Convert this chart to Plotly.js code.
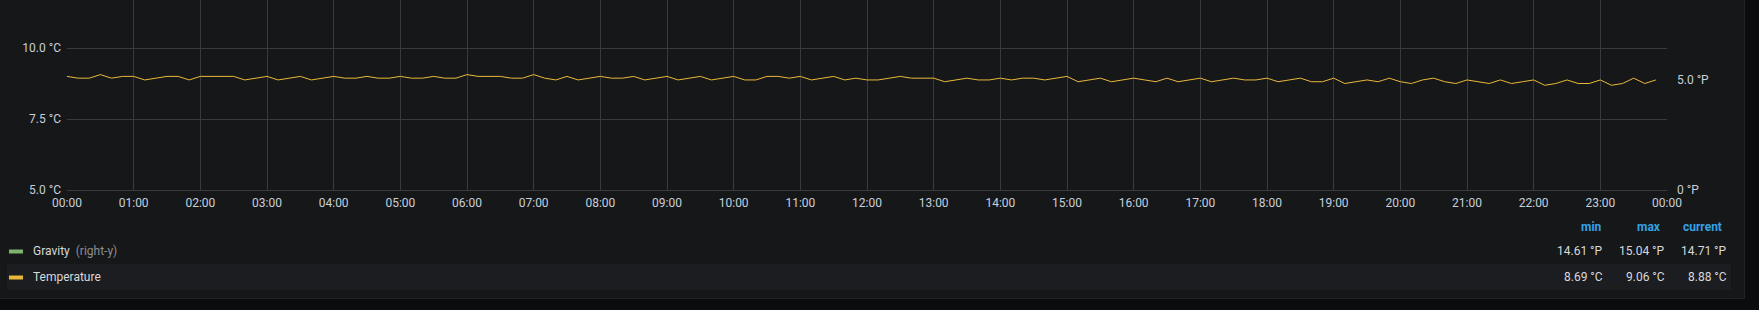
<!DOCTYPE html>
<html>
<head>
<meta charset="utf-8">
<script src="https://cdn.plot.ly/plotly-3.0.1.min.js"></script>
<style>
html,body{margin:0;padding:0;background:#0b0c0e;width:1759px;height:310px;overflow:hidden;}
#wrap{position:absolute;left:0;top:0;width:1744px;height:298px;border-right:1px solid #202226;border-bottom:1px solid #202226;}
#chart{width:1744px;height:298px;}
</style>
</head>
<body>
<div id="wrap"><div id="chart"></div></div>
<script>
// ---- data ----
const startTime = '2020-01-01 00:00';
const endTime = '2020-01-02 00:00';
const sampleMinutes = 10;
const temperature = [
 9.0, 8.9375, 8.9375, 9.0625, 8.9375, 9.0, 9.0, 8.875, 8.9375, 9.0, 9.0, 8.875,
 9.0, 9.0, 9.0, 9.0, 8.875, 8.9375, 9.0, 8.875, 8.9375, 9.0, 8.875, 8.9375,
 9.0, 8.9375, 8.9375, 9.0, 8.9375, 8.9375, 9.0, 8.9375, 8.9375, 9.0, 8.9375, 8.9375,
 9.0625, 9.0, 9.0, 9.0, 8.9375, 8.9375, 9.0625, 8.9375, 8.875, 9.0, 8.875, 8.9375,
 9.0, 8.9375, 8.9375, 9.0, 8.875, 8.9375, 9.0, 8.875, 8.9375, 9.0, 8.875, 8.9375,
 9.0, 8.875, 8.875, 9.0, 9.0, 8.9375, 9.0, 8.875, 8.9375, 9.0, 8.875, 8.9375,
 8.875, 8.875, 8.9375, 9.0, 8.9375, 8.9375, 8.9375, 8.8125, 8.875, 8.9375, 8.875, 8.875,
 8.9375, 8.875, 8.9375, 8.9375, 8.875, 8.9375, 9.0, 8.8125, 8.875, 8.9375, 8.8125, 8.875,
 8.9375, 8.875, 8.8125, 8.9375, 8.8125, 8.875, 8.9375, 8.8125, 8.875, 8.9375, 8.875, 8.875,
 8.9375, 8.8125, 8.875, 8.9375, 8.8125, 8.8125, 8.9375, 8.75, 8.8125, 8.875, 8.8125, 8.9375,
 8.8125, 8.75, 8.875, 8.9375, 8.8125, 8.75, 8.875, 8.8125, 8.75, 8.875, 8.75, 8.8125,
 8.875, 8.6875, 8.75, 8.875, 8.75, 8.75, 8.875, 8.6875, 8.75, 8.9375, 8.75, 8.875
];
const gravityHourly = [
 15.04, 15.03, 15.01, 15.00, 14.98, 14.97, 14.95, 14.94, 14.92, 14.91, 14.89, 14.88,
 14.86, 14.85, 14.83, 14.82, 14.80, 14.79, 14.77, 14.76, 14.74, 14.72, 14.61, 14.68, 14.71
];
const leftTicks = [5, 7.5, 10];
const rightTicks = [0, 5];
const leftRange = [5, 11.69];
const rightRange = [0, 8.64];
const seriesNames = ['Gravity', 'Temperature'];
const statHeaders = ['min', 'max', 'current'];

// ---- build ----
const t0 = new Date(startTime.replace(' ', 'T') + ':00Z').getTime();
function fmt(ms){ return new Date(ms).toISOString().slice(0,19).replace('T',' '); }
const tempX = temperature.map((v,i)=>fmt(t0 + i*sampleMinutes*60000));
const gravX = gravityHourly.map((v,i)=>fmt(t0 + i*3600000));

const W = 1744, H = 298, L = 67, R = 77, T = 0, B = 108;
const PW = W - L - R, PH = H - T - B;
const px = x => (x - L) / PW;
const py = y => (H - B - y) / PH;

const grid = '#3a3b3f';
const txt = '#d8d9da';
const tickCol = '#c7d0d9';
const font = 'Roboto, "Open Sans", sans-serif';

function stats(arr, unit){
  const mn = Math.min(...arr), mx = Math.max(...arr), cur = arr[arr.length-1];
  return [mn, mx, cur].map(v => v.toFixed(2) + ' ' + unit);
}
const gStats = stats(gravityHourly, '°P');
const tStats = stats(temperature, '°C');

const traces = [
  {x: gravX, y: gravityHourly, yaxis: 'y2', type: 'scatter', mode: 'lines',
   line: {color: '#7eb26d', width: 1}, name: seriesNames[0], showlegend: false, hoverinfo: 'skip'},
  {x: tempX, y: temperature, yaxis: 'y', type: 'scatter', mode: 'lines',
   line: {color: '#eab839', width: 1}, name: seriesNames[1], showlegend: false, hoverinfo: 'skip'}
];

const headerX = [1591, 1649, 1702];
const valueRight = [1605, 1667, 1729];
const rowY = [251, 277];

const ann = [];
statHeaders.forEach((h,i)=>ann.push({xref:'paper', yref:'paper', x:px(headerX[i]), y:py(227),
  text:'<b>'+h+'</b>', showarrow:false, xanchor:'center', yanchor:'middle',
  font:{family:font, size:12, color:'#33a2e5'}}));
[gStats, tStats].forEach((row,r)=>row.forEach((s,i)=>ann.push({xref:'paper', yref:'paper',
  x:px(valueRight[i]), y:py(rowY[r]), text:s, showarrow:false, xanchor:'right', yanchor:'middle',
  font:{family:font, size:12, color:txt}})));
ann.push({xref:'paper', yref:'paper', x:px(31), y:py(rowY[0]), text:seriesNames[0] +
  '  <span style="color:#8e8e8e">(right-y)</span>', showarrow:false, xanchor:'left', yanchor:'middle',
  font:{family:font, size:12, color:txt}});
ann.push({xref:'paper', yref:'paper', x:px(31), y:py(rowY[1]), text:seriesNames[1],
  showarrow:false, xanchor:'left', yanchor:'middle', font:{family:font, size:12, color:txt}});

const shapes = [
  {type:'rect', xref:'paper', yref:'paper', x0:px(7), x1:px(1731), y0:py(290), y1:py(264),
   fillcolor:'#1c1d21', line:{width:0}, layer:'below'},
  {type:'rect', xref:'paper', yref:'paper', x0:px(9), x1:px(23), y0:py(253.5), y1:py(249.5),
   fillcolor:'#7eb26d', line:{width:0}},
  {type:'rect', xref:'paper', yref:'paper', x0:px(9), x1:px(23), y0:py(279.5), y1:py(275.5),
   fillcolor:'#eab839', line:{width:0}}
];

const layout = {
  width: W, height: H,
  margin: {l: L, r: R, t: T, b: B, pad: 0},
  paper_bgcolor: '#161719', plot_bgcolor: '#161719',
  font: {family: font, size: 12, color: tickCol},
  showlegend: false,
  xaxis: {type:'date', range:[startTime, endTime], tick0:startTime, dtick:3600000,
    tickformat:'%H:%M', showgrid:true, gridcolor:grid, gridwidth:1, zeroline:false,
    showline:true, linecolor:grid, ticks:'', ticklabelstandoff:2,
    tickfont:{family:font, size:12, color:tickCol}},
  yaxis: {range:leftRange, tickvals:leftTicks, ticktext:leftTicks.map(v=>v.toFixed(1)+' °C'),
    showgrid:true, gridcolor:grid, zeroline:false, showline:false, ticks:'', ticklabelstandoff:5,
    tickfont:{family:font, size:12, color:tickCol}},
  yaxis2: {range:rightRange, overlaying:'y', side:'right', tickvals:rightTicks,
    ticktext:rightTicks.map(v=> v===0 ? '0 °P' : v.toFixed(1)+' °P'),
    showgrid:false, zeroline:false, showline:false, ticks:'', ticklabelstandoff:9,
    tickfont:{family:font, size:12, color:tickCol}},
  annotations: ann,
  shapes: shapes
};

Plotly.newPlot('chart', traces, layout, {staticPlot:true, displayModeBar:false});
</script>
</body>
</html>
